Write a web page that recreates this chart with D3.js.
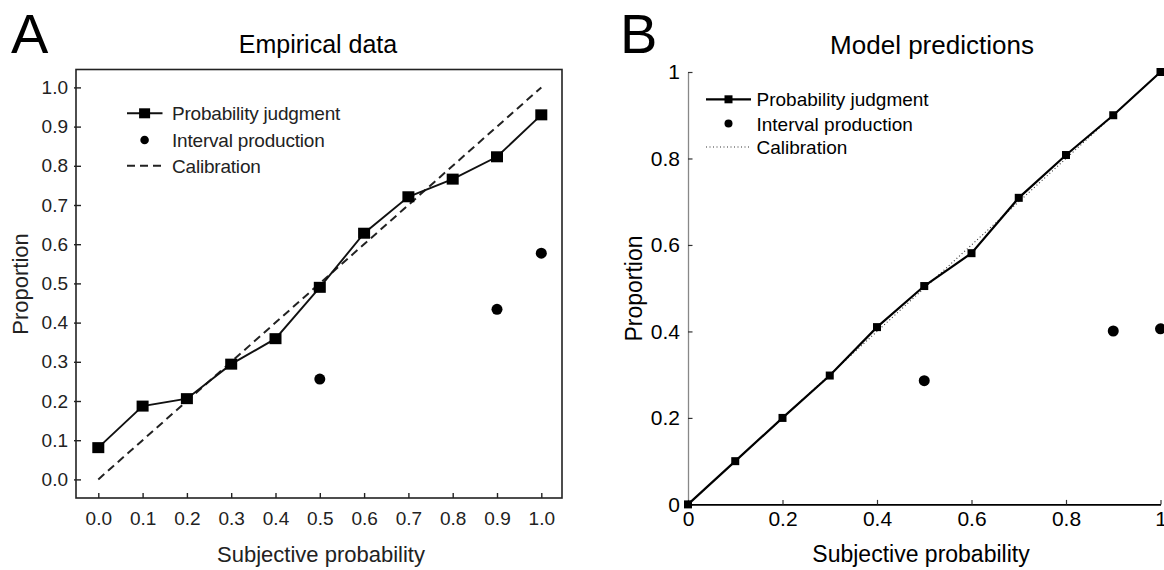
<!DOCTYPE html>
<html>
<head>
<meta charset="utf-8">
<script src="https://cdn.jsdelivr.net/npm/d3@7"></script>
<style>
  html, body { margin: 0; padding: 0; background: #fff; }
  svg { display: block; font-family: "Liberation Sans", Arial, Helvetica, sans-serif; }
</style>
</head>
<body>
<svg id="chart" width="1164" height="570"></svg>
<script>
// ---------- Data ----------
const subjectiveProb = [0.0, 0.1, 0.2, 0.3, 0.4, 0.5, 0.6, 0.7, 0.8, 0.9, 1.0];

// Panel A: empirical data
const empiricalJudgment = [0.081, 0.187, 0.206, 0.294, 0.359, 0.490, 0.628, 0.721, 0.766, 0.823, 0.930];
const empiricalIntervalX = [0.5, 0.9, 1.0];
const empiricalIntervalY = [0.256, 0.434, 0.577];

// Panel B: model predictions
const modelJudgment = [0.0, 0.100, 0.200, 0.298, 0.410, 0.505, 0.581, 0.709, 0.808, 0.900, 1.0];
const modelIntervalX = [0.5, 0.9, 1.0];
const modelIntervalY = [0.286, 0.401, 0.406];

// Calibration line
const calibrationX = [0, 1];
const calibrationY = [0, 1];

// Tick labels
const ticksA = [0.0, 0.1, 0.2, 0.3, 0.4, 0.5, 0.6, 0.7, 0.8, 0.9, 1.0];
const tickLabelsA = ["0.0", "0.1", "0.2", "0.3", "0.4", "0.5", "0.6", "0.7", "0.8", "0.9", "1.0"];
const ticksB = [0, 0.2, 0.4, 0.6, 0.8, 1];
const tickLabelsB = ["0", "0.2", "0.4", "0.6", "0.8", "1"];

const legendLabels = ["Probability judgment", "Interval production", "Calibration"];

// ---------- Drawing ----------
const svg = d3.select("#chart");

// ===== Panel A =====
const xA = d3.scaleLinear().domain([0, 1]).range([98.3, 541.3]);
const yA = d3.scaleLinear().domain([0, 1]).range([479.4, 87.4]);
const frameA = { left: 76, right: 562, top: 69.5, bottom: 498 };

const gA = svg.append("g");

gA.append("rect")
  .attr("x", frameA.left).attr("y", frameA.top)
  .attr("width", frameA.right - frameA.left).attr("height", frameA.bottom - frameA.top)
  .attr("fill", "none").attr("stroke", "#222").attr("stroke-width", 1.6);

const axAx = gA.append("g")
  .attr("transform", `translate(0,${frameA.bottom})`)
  .call(d3.axisBottom(xA).tickValues(ticksA).tickFormat((d, i) => tickLabelsA[i])
        .tickSize(-5).tickSizeOuter(0).tickPadding(14));
axAx.select(".domain").remove();
axAx.selectAll(".tick line").attr("stroke", "#222").attr("stroke-width", 1.4);
axAx.selectAll(".tick text").attr("font-size", 19).attr("fill", "#222")
  .attr("font-family", "'Liberation Sans', Arial, sans-serif");

const ayA = gA.append("g")
  .attr("transform", `translate(${frameA.left},0)`)
  .call(d3.axisLeft(yA).tickValues(ticksA).tickFormat((d, i) => tickLabelsA[i])
        .tickSize(-5).tickSizeOuter(0).tickPadding(8));
ayA.select(".domain").remove();
ayA.selectAll(".tick line").attr("x1", -2).attr("stroke", "#222").attr("stroke-width", 1.4);
ayA.selectAll(".tick text").attr("font-size", 19).attr("fill", "#222")
  .attr("font-family", "'Liberation Sans', Arial, sans-serif");

// calibration dashed
gA.append("path")
  .datum(calibrationX.map((x, i) => [x, calibrationY[i]]))
  .attr("d", d3.line().x(d => xA(d[0])).y(d => yA(d[1])))
  .attr("fill", "none").attr("stroke", "#222").attr("stroke-width", 2)
  .attr("stroke-dasharray", "8,5");

// judgment line
gA.append("path")
  .datum(subjectiveProb.map((x, i) => [x, empiricalJudgment[i]]))
  .attr("d", d3.line().x(d => xA(d[0])).y(d => yA(d[1])))
  .attr("fill", "none").attr("stroke", "#111").attr("stroke-width", 1.9);

gA.selectAll("rect.sqA")
  .data(subjectiveProb.map((x, i) => [x, empiricalJudgment[i]]))
  .join("rect").attr("class", "sqA")
  .attr("x", d => xA(d[0]) - 6).attr("y", d => yA(d[1]) - 5.5)
  .attr("width", 12).attr("height", 11).attr("fill", "#000");

gA.selectAll("circle.ciA")
  .data(empiricalIntervalX.map((x, i) => [x, empiricalIntervalY[i]]))
  .join("circle").attr("class", "ciA")
  .attr("cx", d => xA(d[0])).attr("cy", d => yA(d[1])).attr("r", 5.5).attr("fill", "#000");

// legend A
const legA = { x1: 127, x2: 162.5, xm: 144.6, xt: 172, ys: [113.3, 140, 165.7] };
gA.append("line").attr("x1", legA.x1).attr("x2", legA.x2).attr("y1", legA.ys[0]).attr("y2", legA.ys[0])
  .attr("stroke", "#111").attr("stroke-width", 1.9);
gA.append("rect").attr("x", legA.xm - 5.5).attr("y", legA.ys[0] - 5).attr("width", 11).attr("height", 10).attr("fill", "#000");
gA.append("circle").attr("cx", legA.xm).attr("cy", legA.ys[1]).attr("r", 4.3).attr("fill", "#000");
gA.append("line").attr("x1", legA.x1).attr("x2", legA.x2).attr("y1", legA.ys[2]).attr("y2", legA.ys[2])
  .attr("stroke", "#222").attr("stroke-width", 2).attr("stroke-dasharray", "8,5");
gA.selectAll("text.legA").data(legendLabels).join("text").attr("class", "legA")
  .attr("x", legA.xt).attr("y", (d, i) => legA.ys[i] + 7)
  .attr("font-size", 19).attr("letter-spacing", -0.2).attr("fill", "#222").text(d => d);

// titles / labels A
gA.append("text").attr("x", 11).attr("y", 53).attr("font-size", 56).attr("fill", "#000").text("A");
gA.append("text").attr("x", 318).attr("y", 53).attr("text-anchor", "middle")
  .attr("font-size", 25).attr("fill", "#000").text("Empirical data");
gA.append("text").attr("x", 321).attr("y", 562).attr("text-anchor", "middle")
  .attr("font-size", 22).attr("fill", "#222").text("Subjective probability");
gA.append("text").attr("transform", "translate(28,284) rotate(-90)").attr("text-anchor", "middle")
  .attr("font-size", 22).attr("fill", "#222").text("Proportion");

// ===== Panel B =====
const xB = d3.scaleLinear().domain([0, 1]).range([688, 1160.5]);
const yB = d3.scaleLinear().domain([0, 1]).range([504.4, 72]);
const gB = svg.append("g");

const ayB = gB.append("g")
  .attr("transform", `translate(${xB(0)},0)`)
  .call(d3.axisLeft(yB).tickValues(ticksB).tickFormat((d, i) => tickLabelsB[i])
        .tickSize(-4.5).tickSizeOuter(0).tickPadding(8));
ayB.select(".domain").attr("stroke", "#888").attr("stroke-width", 1.3);
ayB.selectAll(".tick line").attr("stroke", "#333").attr("stroke-width", 1.2);
ayB.selectAll(".tick text").attr("font-size", 21).attr("fill", "#000")
  .attr("font-family", "'Liberation Sans', Arial, sans-serif");

const axB = gB.append("g")
  .attr("transform", `translate(0,${yB(0)})`)
  .call(d3.axisBottom(xB).tickValues(ticksB).tickFormat((d, i) => tickLabelsB[i])
        .tickSize(-4.5).tickSizeOuter(0).tickPadding(7));
axB.select(".domain").attr("stroke", "#000").attr("stroke-width", 1.6);
axB.selectAll(".tick line").attr("stroke", "#333").attr("stroke-width", 1.2);
axB.selectAll(".tick text").attr("font-size", 21).attr("fill", "#000")
  .attr("font-family", "'Liberation Sans', Arial, sans-serif");

// calibration dotted
gB.append("path")
  .datum(calibrationX.map((x, i) => [x, calibrationY[i]]))
  .attr("d", d3.line().x(d => xB(d[0])).y(d => yB(d[1])))
  .attr("fill", "none").attr("stroke", "#333").attr("stroke-width", 1.1)
  .attr("stroke-dasharray", "1,2.5");

gB.append("path")
  .datum(subjectiveProb.map((x, i) => [x, modelJudgment[i]]))
  .attr("d", d3.line().x(d => xB(d[0])).y(d => yB(d[1])))
  .attr("fill", "none").attr("stroke", "#000").attr("stroke-width", 2.2);

gB.selectAll("rect.sqB")
  .data(subjectiveProb.map((x, i) => [x, modelJudgment[i]]))
  .join("rect").attr("class", "sqB")
  .attr("x", d => xB(d[0]) - 4).attr("y", d => yB(d[1]) - 4)
  .attr("width", 8).attr("height", 8).attr("fill", "#000");

gB.selectAll("circle.ciB")
  .data(modelIntervalX.map((x, i) => [x, modelIntervalY[i]]))
  .join("circle").attr("class", "ciB")
  .attr("cx", d => xB(d[0])).attr("cy", d => yB(d[1])).attr("r", 5.5).attr("fill", "#000");

// legend B
const legB = { x1: 706, x2: 751, xm: 728.5, xt: 756.5, ys: [99.3, 123.5, 147] };
gB.append("line").attr("x1", legB.x1).attr("x2", legB.x2).attr("y1", legB.ys[0]).attr("y2", legB.ys[0])
  .attr("stroke", "#000").attr("stroke-width", 2.2);
gB.append("rect").attr("x", legB.xm - 4).attr("y", legB.ys[0] - 4).attr("width", 8).attr("height", 8).attr("fill", "#000");
gB.append("circle").attr("cx", legB.xm).attr("cy", legB.ys[1]).attr("r", 4).attr("fill", "#000");
gB.append("line").attr("x1", legB.x1).attr("x2", legB.x2).attr("y1", legB.ys[2]).attr("y2", legB.ys[2])
  .attr("stroke", "#333").attr("stroke-width", 1.1).attr("stroke-dasharray", "1,2.5");
gB.selectAll("text.legB").data(legendLabels).join("text").attr("class", "legB")
  .attr("x", legB.xt).attr("y", (d, i) => legB.ys[i] + 7)
  .attr("font-size", 19).attr("fill", "#000").text(d => d);

gB.append("text").attr("x", 620).attr("y", 53).attr("font-size", 56).attr("fill", "#000").text("B");
gB.append("text").attr("x", 932).attr("y", 54).attr("text-anchor", "middle")
  .attr("font-size", 26).attr("fill", "#000").text("Model predictions");
gB.append("text").attr("x", 921).attr("y", 562).attr("text-anchor", "middle")
  .attr("font-size", 23).attr("fill", "#000").text("Subjective probability");
gB.append("text").attr("transform", "translate(641.5,288.5) rotate(-90)").attr("text-anchor", "middle")
  .attr("font-size", 23).attr("fill", "#000").text("Proportion");
</script>
</body>
</html>
